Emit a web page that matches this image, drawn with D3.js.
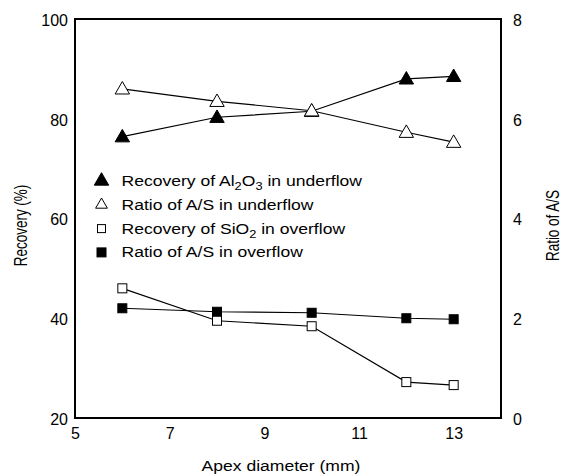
<!DOCTYPE html>
<html>
<head>
<meta charset="utf-8">
<script src="https://cdn.jsdelivr.net/npm/d3@7"></script>
<style>
  body { margin: 0; background: #fff; }
  text { font-family: "Liberation Sans", Arial, sans-serif; fill: #000; }
</style>
</head>
<body>
<div id="chart"></div>
<script>
// data
var apex = [6, 8, 10, 12, 13];
var recAl2O3Under = [76.4, 80.3, 81.5, 88.0, 88.5];   // left axis
var ratioUnder = [6.6, 6.35, 6.16, 5.73, 5.53];        // right axis
var recSiO2Over = [46.0, 39.5, 38.4, 27.2, 26.6];      // left axis
var ratioOver = [2.2, 2.13, 2.11, 2.0, 1.98];          // right axis

var xTicks = [5, 7, 9, 11, 13];
var yLeftTicks = [20, 40, 60, 80, 100];
var yRightTicks = [0, 2, 4, 6, 8];

var W = 561, H = 476;
var margin = {top: 19, right: 60, bottom: 58, left: 75},
    width = W - margin.left - margin.right,
    height = H - margin.top - margin.bottom;

// the original text is a little stretched sideways
var stretch = 1.17;

var svg = d3.select("#chart")
  .append("svg")
    .attr("width", W)
    .attr("height", H)
  .append("g")
    .attr("transform", "translate(" + margin.left + "," + margin.top + ")");

var x = d3.scaleLinear().domain([5, 14]).range([0, width]);
var yL = d3.scaleLinear().domain([20, 100]).range([height, 0]);
var yR = d3.scaleLinear().domain([0, 8]).range([height, 0]);

// axes (no tick marks, labels only)
svg.append("g")
  .attr("transform", "translate(0," + height + ")")
  .call(d3.axisBottom(x).tickValues(xTicks).tickSize(0).tickPadding(10).tickFormat(d3.format("d")))
  .call(function(g) { g.select(".domain").remove(); })
  .selectAll("text").style("font-size", "16px");

svg.append("g")
  .call(d3.axisLeft(yL).tickValues(yLeftTicks).tickSize(0).tickPadding(7))
  .call(function(g) { g.select(".domain").remove(); })
  .selectAll("text").style("font-size", "16px").attr("dy", "0.4em");

svg.append("g")
  .attr("transform", "translate(" + width + ",0)")
  .call(d3.axisRight(yR).tickValues(yRightTicks).tickSize(0).tickPadding(12))
  .call(function(g) { g.select(".domain").remove(); })
  .selectAll("text").style("font-size", "16px").attr("dy", "0.4em");

// frame
svg.append("rect")
  .attr("width", width)
  .attr("height", height)
  .attr("fill", "none")
  .attr("stroke", "#000")
  .attr("stroke-width", 2);

// axis titles
svg.append("text")
  .attr("transform", "translate(" + (width / 2 - 7) + "," + (height + 53) + ") scale(" + stretch + ",1)")
  .attr("text-anchor", "middle")
  .style("font-size", "15px")
  .text("Apex diameter (mm)");

svg.append("text")
  .attr("transform", "translate(" + (-48) + "," + (height / 2 + 7) + ") rotate(-90) scale(1,1.3)")
  .attr("text-anchor", "middle")
  .style("font-size", "13.5px")
  .text("Recovery (%)");

svg.append("text")
  .attr("transform", "translate(" + (width + 58) + "," + (height / 2 + 7) + ") rotate(-90) scale(1,1.3)")
  .attr("text-anchor", "middle")
  .style("font-size", "13.5px")
  .text("Ratio of A/S");

var triangle = d3.symbol().type(d3.symbolTriangle).size(90);

function drawSeries(vals, y, shape, fill) {
  var pts = apex.map(function(d, i) { return [x(d), y(vals[i])]; });
  svg.append("path")
    .datum(pts)
    .attr("fill", "none")
    .attr("stroke", "#000")
    .attr("stroke-width", 1.2)
    .attr("d", d3.line());
  if (shape === "tri") {
    svg.selectAll(null)
      .data(pts)
      .enter().append("path")
        .attr("transform", function(d) { return "translate(" + d[0] + "," + (d[1] + 1) + ")"; })
        .attr("d", triangle)
        .attr("fill", fill)
        .attr("stroke", "#000")
        .attr("stroke-width", 1);
  } else {
    svg.selectAll(null)
      .data(pts)
      .enter().append("rect")
        .attr("x", function(d) { return d[0] - 4.5; })
        .attr("y", function(d) { return d[1] - 4.5; })
        .attr("width", 9)
        .attr("height", 9)
        .attr("fill", fill)
        .attr("stroke", "#000")
        .attr("stroke-width", 1);
  }
}

drawSeries(recAl2O3Under, yL, "tri", "#000");
drawSeries(ratioUnder, yR, "tri", "#fff");
drawSeries(ratioOver, yR, "sq", "#000");
drawSeries(recSiO2Over, yL, "sq", "#fff");

// legend
var legend = [
  {shape: "tri", fill: "#000", parts: [["Recovery of Al", 0], ["2", 1], ["O", 0], ["3", 1], [" in underflow", 0]], size: 90},
  {shape: "tri", fill: "#fff", parts: [["Ratio of A/S in underflow", 0]], size: 60},
  {shape: "sq", fill: "#fff", parts: [["Recovery of SiO", 0], ["2", 1], [" in overflow", 0]], size: 8},
  {shape: "sq", fill: "#000", parts: [["Ratio of A/S in overflow", 0]], size: 9}
];

var lg = svg.append("g").attr("transform", "translate(" + (101.5 - margin.left) + "," + (180 - margin.top) + ")");
legend.forEach(function(d, i) {
  var row = lg.append("g").attr("transform", "translate(0," + (i * 23.8) + ")");
  if (d.shape === "tri") {
    row.append("path")
      .attr("transform", "translate(0,1)")
      .attr("d", d3.symbol().type(d3.symbolTriangle).size(d.size))
      .attr("fill", d.fill)
      .attr("stroke", "#000");
  } else {
    row.append("rect")
      .attr("x", -d.size / 2).attr("y", -d.size / 2 + 1)
      .attr("width", d.size).attr("height", d.size)
      .attr("fill", d.fill).attr("stroke", "#000");
  }
  var t = row.append("text")
    .attr("transform", "translate(20,6) scale(" + stretch + ",1)")
    .style("font-size", "15px");
  d.parts.forEach(function(p) {
    var ts = t.append("tspan").text(p[0]);
    if (p[1]) ts.attr("dy", 4).style("font-size", "11px");
    else if (t.selectAll("tspan").size() > 1) ts.attr("dy", -4);
  });
});
</script>
</body>
</html>
